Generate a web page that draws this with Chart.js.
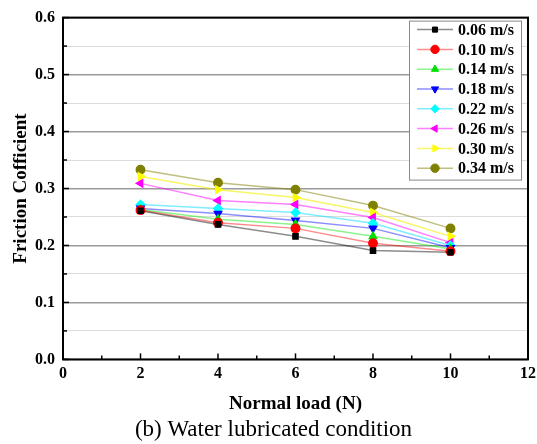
<!DOCTYPE html>
<html>
<head>
<meta charset="utf-8">
<script src="https://cdn.jsdelivr.net/npm/chart.js@4.4.1/dist/chart.umd.min.js"></script>
<style>
  html, body { margin: 0; padding: 0; background: #fff; }
  #wrap { width: 537px; height: 444px; position: relative; }
</style>
</head>
<body>
<div id="wrap"><canvas id="myChart"></canvas></div>
<script>
// 荷重 (N)
const loads = [2, 4, 6, 8, 10];

// 速度ごとの摩擦係数
const speedLabels = ["0.06 m/s", "0.10 m/s", "0.14 m/s", "0.18 m/s", "0.22 m/s", "0.26 m/s", "0.30 m/s", "0.34 m/s"];
const v006 = [0.261, 0.237, 0.216, 0.191, 0.188];
const v010 = [0.262, 0.240, 0.230, 0.204, 0.190];
const v014 = [0.263, 0.246, 0.237, 0.216, 0.194];
const v018 = [0.265, 0.256, 0.244, 0.230, 0.196];
const v022 = [0.272, 0.265, 0.258, 0.239, 0.200];
const v026 = [0.309, 0.279, 0.272, 0.249, 0.205];
const v030 = [0.321, 0.298, 0.284, 0.258, 0.216];
const v034 = [0.333, 0.310, 0.298, 0.270, 0.230];
const seriesValues = [v006, v010, v014, v018, v022, v026, v030, v034];

// 目盛り
const xTicks = [0, 2, 4, 6, 8, 10, 12];
const yTicks = [0.0, 0.1, 0.2, 0.3, 0.4, 0.5, 0.6];

const SERIF = "'Liberation Serif', 'Times New Roman', serif";

// 色とマーカー
const STYLES = [
  { color: "#000000", line: "rgba(0,0,0,0.45)", shape: "rect", rot: 0 },
  { color: "#ff0000", line: "rgba(255,0,0,0.45)", shape: "circle", rot: 0 },
  { color: "#00e000", line: "rgba(0,230,0,0.45)", shape: "triangle", rot: 0 },
  { color: "#0000ff", line: "rgba(0,0,255,0.45)", shape: "triangle", rot: 180 },
  { color: "#00ffff", line: "rgba(0,220,255,0.5)", shape: "rectRot", rot: 0 },
  { color: "#ff00ff", line: "rgba(255,0,255,0.5)", shape: "triangle", rot: -90 },
  { color: "#ffff00", line: "rgba(240,240,0,0.6)", shape: "triangle", rot: 90 },
  { color: "#808000", line: "rgba(128,128,0,0.5)", shape: "circle", rot: 0 },
];

const datasets = seriesValues.map((vals, i) => ({
  label: speedLabels[i],
  data: loads.map((x, j) => ({ x, y: vals[j] })),
  borderColor: STYLES[i].line,
  backgroundColor: STYLES[i].color,
  pointBackgroundColor: STYLES[i].color,
  pointBorderColor: STYLES[i].color,
  pointStyle: STYLES[i].shape,
  pointRotation: STYLES[i].rot,
  pointRadius: STYLES[i].shape === "rect" ? 3.6 : 4.2,
  borderWidth: 1.5,
  tension: 0,
}));

/**
 * 枠・内向き目盛り・凡例を描くプラグイン
 */
const framePlugin = {
  id: "frame",
  afterDraw(chart) {
    const { ctx, chartArea: a, scales } = chart;
    ctx.save();
    // 枠
    ctx.strokeStyle = "#000";
    ctx.lineWidth = 2;
    ctx.strokeRect(a.left, a.top, a.right - a.left, a.bottom - a.top);

    // x 目盛り（内向き）
    ctx.lineWidth = 1.5;
    for (let v = 0; v <= 12; v += 1) {
      const px = scales.x.getPixelForValue(v);
      const len = v % 2 === 0 ? 6 : 4;
      ctx.beginPath();
      ctx.moveTo(px, a.bottom);
      ctx.lineTo(px, a.bottom - len);
      ctx.stroke();
    }
    // y 目盛り（内向き）
    for (let k = 0; k <= 12; k += 1) {
      const py = scales.y.getPixelForValue(k * 0.05);
      const len = k % 2 === 0 ? 6 : 4;
      ctx.beginPath();
      ctx.moveTo(a.left, py);
      ctx.lineTo(a.left + len, py);
      ctx.stroke();
    }

    // 凡例
    const bx = a.right - 119, by = a.top + 3, bw = 112, bh = 159;
    ctx.fillStyle = "#fff";
    ctx.fillRect(bx, by, bw, bh);
    ctx.strokeStyle = "#888";
    ctx.lineWidth = 1;
    ctx.strokeRect(bx + 0.5, by + 0.5, bw, bh);
    ctx.font = `bold 16px ${SERIF}`;
    ctx.textBaseline = "middle";
    chart.data.datasets.forEach((ds, i) => {
      const y = by + 9 + i * 19.8;
      ctx.strokeStyle = ds.borderColor;
      ctx.lineWidth = 1.5;
      ctx.beginPath();
      ctx.moveTo(bx + 8, y);
      ctx.lineTo(bx + 44, y);
      ctx.stroke();
      ctx.fillStyle = ds.pointBackgroundColor;
      ctx.strokeStyle = ds.pointBorderColor;
      ctx.lineWidth = 1;
      Chart.helpers.drawPoint(ctx, {
        pointStyle: ds.pointStyle,
        rotation: ds.pointRotation,
        radius: ds.pointRadius,
        borderWidth: 1,
      }, bx + 26, y);
      ctx.fillStyle = "#000";
      ctx.fillText(ds.label, bx + 49, y + 1);
    });
    ctx.restore();
  },
};

const chartConfig = {
  type: "line",
  data: { datasets },
  plugins: [framePlugin],
  options: {
    responsive: true,
    maintainAspectRatio: false,
    animation: false,
    layout: { padding: { top: 14, right: 0, left: 10, bottom: 0 } },
    plugins: {
      legend: { display: false },
      tooltip: { enabled: false },
      title: {
        display: true,
        position: "bottom",
        text: "(b) Water lubricated condition",
        color: "#000",
        font: { family: SERIF, size: 23, weight: "normal" },
        padding: { top: 0, bottom: 0 },
      },
    },
    scales: {
      x: {
        type: "linear",
        min: 0,
        max: 12,
        afterBuildTicks: (axis) => { axis.ticks = xTicks.map((v) => ({ value: v })); },
        afterFit: (axis) => {
          axis.paddingRight = 9;
          axis.paddingLeft = 0;
        },
        ticks: {
          color: "#000",
          font: { family: SERIF, size: 16, weight: "bold" },
          padding: 5,
          maxRotation: 0,
        },
        grid: { display: false, drawTicks: false },
        border: { display: false },
        title: {
          display: true,
          text: "Normal load (N)",
          color: "#000",
          font: { family: SERIF, size: 19, weight: "bold" },
          padding: { top: 4, bottom: 1 },
        },
      },
      y: {
        min: 0,
        max: 0.6,
        afterBuildTicks: (axis) => {
          const t = [];
          for (let k = 0; k <= 12; k += 1) t.push({ value: +(k * 0.05).toFixed(2) });
          axis.ticks = t;
        },
        afterFit: (axis) => { axis.width = 53; },
        ticks: {
          color: "#000",
          font: { family: SERIF, size: 16, weight: "bold" },
          padding: 8,
          callback: (v) => {
            const hit = yTicks.find((t) => Math.abs(t - v) < 1e-6);
            return hit === undefined ? "" : hit.toFixed(1);
          },
        },
        grid: {
          drawTicks: false,
          color: (c) => {
            const v = c.tick ? c.tick.value : 0;
            const major = Math.abs(v * 10 - Math.round(v * 10)) < 1e-6;
            return major ? "#9a9a9a" : "#dcdcdc";
          },
          lineWidth: (c) => {
            const v = c.tick ? c.tick.value : 0;
            const major = Math.abs(v * 10 - Math.round(v * 10)) < 1e-6;
            return major ? 1.5 : 1;
          },
        },
        border: { display: false },
        title: {
          display: true,
          text: "Friction Cofficient",
          color: "#000",
          font: { family: SERIF, size: 19, weight: "bold" },
          padding: { top: 0, bottom: 2 },
        },
      },
    },
  },
};

const initChart = () => {
  const canvas = document.getElementById("myChart");
  if (!canvas) return;
  new Chart(canvas, chartConfig);
};

if (document.readyState === "loading") {
  document.addEventListener("DOMContentLoaded", initChart);
} else {
  initChart();
}
</script>
</body>
</html>
